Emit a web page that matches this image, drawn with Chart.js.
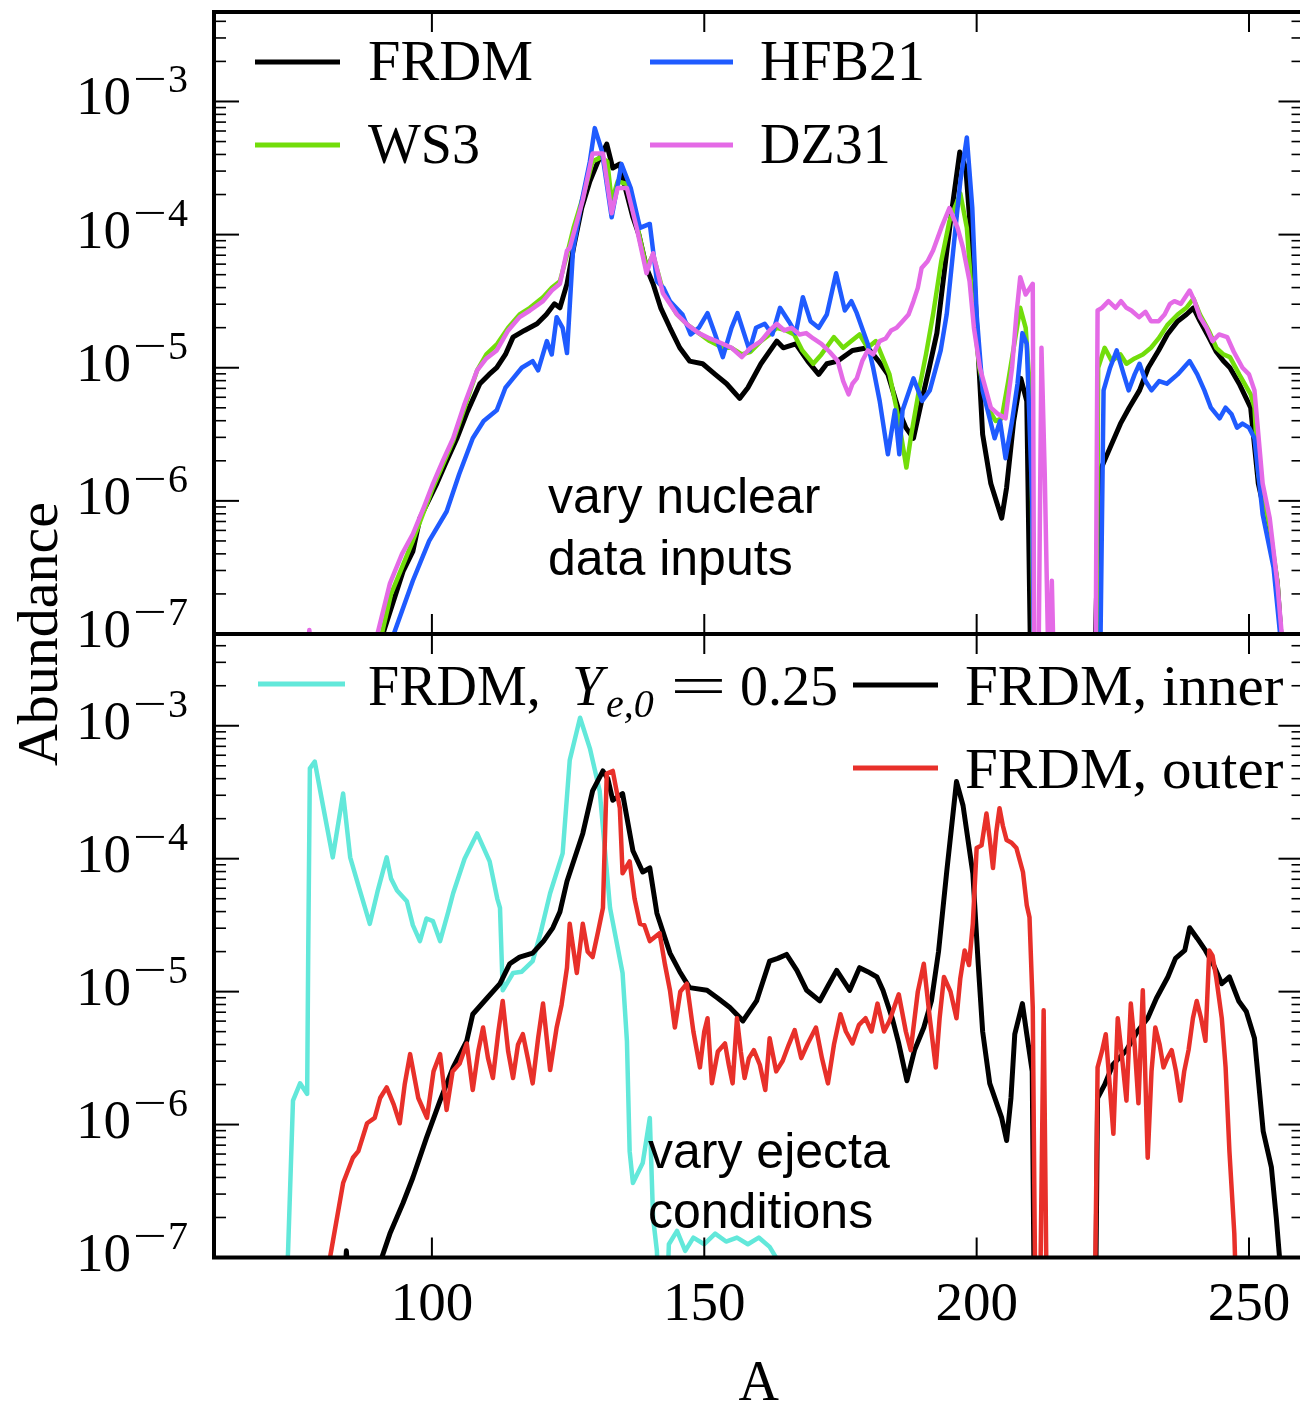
<!DOCTYPE html>
<html>
<head>
<meta charset="utf-8">
<script src="https://cdn.jsdelivr.net/npm/chart.js@4.4.1/dist/chart.umd.min.js"></script>
<style>
  html, body { margin: 0; padding: 0; background: #fff; width: 1300px; height: 1407px; overflow: hidden; }
  canvas { position: absolute; left: 0; top: 0; }
</style>
</head>
<body>
<canvas id="topPanel" width="1306" height="1407"></canvas>
<canvas id="bottomPanel" width="1306" height="1407"></canvas>
<script>
// values: [mass number A, log10(abundance)]
// top panel - vary nuclear data inputs
var frdmTop = [[90,-7.3],[91,-7.0],[94.7,-6.53],[96.5,-6.38],[97.8,-6.13],[100.9,-5.87],[102.5,-5.72],[104.6,-5.53],[106.5,-5.33],[108.8,-5.12],[110.5,-5.05],[111.9,-5.0],[113.5,-4.9],[114.9,-4.77],[117,-4.72],[119.3,-4.67],[121,-4.6],[122.5,-4.52],[123.5,-4.55],[124.8,-4.37],[126,-4.1],[127.5,-3.8],[129,-3.6],[130.5,-3.45],[132.1,-3.32],[133.2,-3.5],[134.5,-3.47],[135.5,-3.65],[136.9,-3.87],[138,-4.0],[139.4,-4.25],[140.6,-4.37],[142,-4.55],[143.7,-4.7],[145.5,-4.85],[147.3,-4.95],[149.7,-4.97],[152,-5.05],[154.1,-5.12],[156.5,-5.23],[158,-5.15],[160.4,-4.97],[163.3,-4.8],[164.5,-4.85],[166.8,-4.82],[169,-4.95],[171,-5.05],[172.5,-4.97],[174.5,-4.95],[177.2,-4.87],[180,-4.85],[182,-4.95],[183.7,-5.05],[185.7,-5.32],[187,-5.45],[188.4,-5.53],[189.9,-5.25],[191.3,-5.0],[192.7,-4.74],[194,-4.3],[195.5,-3.8],[196.9,-3.38],[198,-3.5],[199.5,-4.3],[201.1,-5.5],[202.6,-5.87],[204.6,-6.13],[205.5,-5.9],[206.8,-5.4],[208.1,-5.08],[209.2,-5.25],[210,-7.5],[221.5,-7.5],[222.6,-5.78],[224.5,-5.6],[226.4,-5.42],[228,-5.3],[229.9,-5.17],[231.5,-5.0],[233.4,-4.87],[235,-4.75],[236.9,-4.65],[238.5,-4.6],[239.8,-4.55],[241,-4.65],[242.6,-4.77],[244,-4.88],[245.3,-4.95],[246.5,-5.0],[248.2,-5.12],[250.3,-5.3],[251.7,-5.87],[253.8,-6.25],[255.2,-6.62],[256.2,-7.2]];

var hfb21Top = [[92,-7.2],[93,-7.0],[96.5,-6.6],[99.5,-6.3],[102.7,-6.08],[105,-5.8],[107.5,-5.53],[109.5,-5.4],[111.9,-5.32],[113.5,-5.15],[114.9,-5.08],[116.5,-5.0],[118.5,-4.95],[119.5,-5.02],[121.1,-4.8],[122,-4.9],[122.9,-4.62],[124,-4.7],[124.8,-4.89],[125.9,-4.12],[127.5,-3.75],[129,-3.45],[129.9,-3.2],[131.2,-3.37],[133,-3.87],[134.8,-3.47],[136.5,-3.65],[138.2,-3.95],[140,-3.92],[141.3,-4.35],[142.5,-4.4],[143.7,-4.5],[146,-4.6],[147.5,-4.75],[149,-4.7],[150.6,-4.59],[152,-4.75],[153.4,-4.92],[155,-4.7],[156.1,-4.59],[158.3,-4.87],[159.5,-4.7],[161.1,-4.67],[162.5,-4.75],[163.9,-4.55],[165.5,-4.65],[166.8,-4.74],[168.1,-4.47],[169.5,-4.65],[171,-4.7],[172.5,-4.6],[174.2,-4.29],[175.8,-4.57],[177,-4.5],[178,-4.59],[180,-4.82],[181,-5.0],[182.2,-5.25],[183.7,-5.65],[185,-5.32],[185.8,-5.65],[186.4,-5.32],[188.4,-5.08],[190,-5.25],[191.4,-5.17],[193.4,-4.87],[194.5,-4.6],[196,-4.0],[197,-3.6],[198.2,-3.27],[199.2,-3.8],[200,-4.6],[201.1,-5.17],[203.3,-5.53],[204.3,-5.4],[205.3,-5.68],[206.5,-5.4],[207.5,-5.12],[208.4,-4.74],[209.2,-4.82],[210.2,-6.0],[210.6,-7.5],[222.6,-7.5],[223.3,-5.17],[224.5,-5.0],[225.7,-4.87],[227,-5.05],[227.9,-5.17],[229,-5.05],[229.9,-4.97],[231,-5.1],[232.1,-5.17],[233.5,-5.1],[234.9,-5.12],[236.9,-5.05],[239.1,-4.95],[240.5,-5.05],[241.8,-5.17],[243,-5.3],[244.6,-5.38],[245.7,-5.3],[246.8,-5.35],[247.8,-5.45],[248.8,-5.42],[250,-5.45],[251,-5.53],[252.5,-6.1],[254.5,-6.5],[255.7,-7.0],[256.5,-7.5]];

var ws3Top = [[89.8,-7.3],[90.8,-7.0],[92.5,-6.7],[96.5,-6.3],[100.2,-5.9],[103.9,-5.55],[106,-5.3],[108.3,-5.02],[110,-4.9],[112,-4.82],[114,-4.7],[116.1,-4.6],[118,-4.55],[120.4,-4.47],[122,-4.4],[123.5,-4.35],[124.8,-4.15],[126,-3.95],[127.7,-3.72],[129.5,-3.45],[131,-3.42],[132.2,-3.45],[133,-3.75],[134.1,-3.6],[135.8,-3.62],[137.6,-3.92],[139.4,-4.25],[140.6,-4.15],[142.4,-4.42],[145,-4.6],[147,-4.68],[149,-4.74],[151,-4.8],[153.4,-4.85],[155,-4.85],[156.9,-4.9],[158.5,-4.88],[160.4,-4.8],[162,-4.75],[163.3,-4.7],[165,-4.72],[166.5,-4.75],[168,-4.87],[170,-4.97],[171.5,-4.9],[173.8,-4.77],[175.5,-4.85],[177,-4.8],[178.5,-4.75],[180,-4.85],[181.5,-4.8],[182.5,-4.9],[184,-5.05],[185.5,-5.35],[186.5,-5.6],[187.1,-5.75],[188,-5.5],[189.5,-5.15],[190.7,-4.9],[192,-4.6],[193.5,-4.2],[195,-3.9],[197,-3.69],[198.2,-3.95],[199.2,-4.5],[200.5,-5.0],[202,-5.3],[203.5,-5.4],[204.6,-5.38],[205.8,-5.1],[207,-4.8],[208,-4.55],[209,-4.7],[210,-5.3],[210.5,-7.5],[222,-7.5],[222.3,-5.0],[223.5,-4.85],[224.8,-4.95],[226.4,-4.9],[227.5,-4.97],[229,-4.93],[230.5,-4.9],[232,-4.85],[233.4,-4.78],[235,-4.68],[236.9,-4.6],[238.5,-4.55],[239.8,-4.48],[241,-4.6],[242.6,-4.72],[244,-4.85],[245.3,-4.9],[246.5,-4.92],[248.2,-5.05],[250.3,-5.2],[251,-5.3],[251.7,-5.8],[253.8,-6.2],[255.2,-6.6],[256.2,-7.2]];

var dz31Top = [[76.5,-7.5],[77.5,-6.97],[78.5,-7.5],[89.5,-7.5],[90,-7.0],[92.3,-6.62],[94.5,-6.4],[96.5,-6.25],[98.5,-6.05],[100.2,-5.87],[102,-5.7],[103.9,-5.53],[106,-5.27],[108.3,-5.02],[110,-4.93],[111.9,-4.87],[114,-4.72],[116.1,-4.62],[118,-4.57],[120.4,-4.5],[122,-4.42],[123.5,-4.37],[124.8,-4.12],[125.3,-4.1],[127.7,-3.74],[129.5,-3.39],[131.4,-3.39],[133,-3.84],[134.1,-3.65],[135.8,-3.65],[137.6,-3.95],[139.4,-4.29],[140.6,-4.14],[142.4,-4.44],[145,-4.6],[147,-4.68],[149,-4.74],[151,-4.78],[153.4,-4.82],[155,-4.85],[156.9,-4.92],[158.5,-4.85],[160.4,-4.8],[162,-4.72],[163.3,-4.67],[164.7,-4.72],[166,-4.7],[167.5,-4.75],[168.7,-4.74],[170,-4.78],[171.5,-4.82],[173,-4.88],[174.5,-4.95],[175.5,-5.1],[176.5,-5.2],[177.2,-5.12],[178,-5.08],[179,-4.95],[180,-4.87],[181,-4.9],[182.2,-4.8],[183.3,-4.78],[184.3,-4.72],[185.3,-4.7],[186.4,-4.65],[187.5,-4.6],[188.4,-4.5],[189.2,-4.4],[189.9,-4.25],[191,-4.2],[192,-4.12],[193.5,-3.95],[195,-3.8],[196.5,-3.95],[197.5,-4.1],[198.7,-4.35],[199.5,-4.7],[200.6,-5.0],[202.6,-5.3],[204,-5.35],[205.3,-5.38],[206.5,-5.0],[207.3,-4.6],[208,-4.32],[209,-4.45],[210.3,-4.37],[210.6,-7.5],[211.3,-7.5],[211.9,-4.85],[212.5,-5.8],[213.3,-7.5],[213.8,-6.6],[214.3,-7.5],[221.8,-7.5],[222.2,-4.57],[223,-4.55],[224.2,-4.5],[225.5,-4.55],[226.5,-4.5],[227.5,-4.55],[228.4,-4.57],[229.8,-4.62],[231,-4.58],[232,-4.65],[233.4,-4.65],[234.5,-4.6],[235.5,-4.52],[236.3,-4.5],[237.5,-4.52],[239.1,-4.42],[240,-4.5],[241,-4.62],[242.2,-4.7],[243.3,-4.8],[244.5,-4.75],[246,-4.77],[247.2,-4.88],[248.8,-5.0],[250,-5.05],[251,-5.17],[252.5,-5.87],[253.8,-6.13],[255.2,-6.62],[256,-7.0],[256.5,-7.5]];

// bottom panel - vary ejecta conditions
var frdmLowYe = [[73,-7.5],[73.6,-6.95],[74.5,-5.82],[75.8,-5.69],[77.1,-5.77],[77.3,-4.69],[77.6,-3.32],[78.5,-3.27],[80,-3.6],[81.8,-3.99],[83.7,-3.51],[85,-3.99],[86.5,-4.2],[88.6,-4.49],[90,-4.25],[91.7,-3.99],[92.5,-4.15],[93.6,-4.24],[95.4,-4.32],[96.5,-4.5],[97.8,-4.62],[99,-4.45],[100.2,-4.47],[101.5,-4.62],[103,-4.4],[103.9,-4.26],[106,-4.0],[108.3,-3.81],[110.6,-4.02],[112,-4.3],[112.5,-4.37],[113,-4.99],[114.9,-4.86],[116.5,-4.85],[118.5,-4.77],[120,-4.55],[121.7,-4.26],[124,-3.96],[125.3,-3.26],[127.2,-2.94],[129,-3.17],[130.8,-3.49],[132.7,-4.37],[135,-4.86],[135.8,-5.37],[136.3,-6.2],[136.9,-6.44],[138.7,-6.29],[140,-5.95],[140.6,-6.7],[141.3,-6.95],[141.8,-7.5],[143,-7.5],[143.5,-6.9],[145,-6.8],[146.5,-6.95],[148,-6.85],[150,-6.9],[152,-6.82],[154,-6.88],[156,-6.85],[158,-6.9],[160,-6.85],[162,-6.92],[163.9,-7.05],[164.5,-7.5]];

var frdmInner = [[83.5,-7.5],[84.3,-6.95],[85.2,-7.5],[90.5,-7.5],[90.8,-7.0],[92.3,-6.82],[94.7,-6.59],[96.5,-6.4],[99,-6.1],[101.5,-5.82],[103.9,-5.57],[106.4,-5.37],[107.5,-5.17],[110.1,-5.05],[112.5,-4.94],[114.3,-4.79],[116.1,-4.74],[118.5,-4.71],[120.5,-4.62],[122.2,-4.52],[123.5,-4.4],[124.8,-4.17],[127.7,-3.81],[129.5,-3.49],[131.4,-3.34],[132.3,-3.4],[133.2,-3.56],[135,-3.51],[136.9,-3.94],[138.7,-4.1],[140,-4.07],[141.3,-4.41],[143.7,-4.71],[145.5,-4.85],[147.3,-4.97],[150.5,-4.99],[152.5,-5.05],[154.7,-5.12],[157.1,-5.22],[159.6,-5.07],[162,-4.77],[163.5,-4.75],[165.1,-4.72],[167,-4.84],[168.8,-4.99],[171.2,-5.07],[172.8,-4.95],[174.3,-4.84],[176.7,-4.99],[178.5,-4.82],[180,-4.85],[181.7,-4.89],[182.8,-4.99],[184.5,-5.2],[185.7,-5.39],[187.2,-5.67],[188.6,-5.44],[190.3,-5.27],[191.7,-5.07],[193,-4.7],[194.5,-4.1],[196.3,-3.42],[197.5,-3.6],[199.3,-4.11],[200.3,-4.8],[201.1,-5.3],[202.4,-5.69],[204.6,-5.95],[205.5,-6.12],[206.3,-5.8],[207,-5.32],[208.4,-5.09],[209.2,-5.32],[210.2,-5.6],[210.6,-7.5],[221.8,-7.5],[222.2,-5.8],[223.5,-5.7],[225,-5.55],[227.5,-5.44],[229.5,-5.3],[231.4,-5.2],[233,-5.05],[235.1,-4.89],[236.5,-4.75],[238.2,-4.69],[239.1,-4.52],[240.5,-4.6],[242,-4.69],[243.5,-4.8],[245,-4.94],[246.4,-4.89],[248.1,-5.07],[249.5,-5.15],[251,-5.35],[252.6,-6.05],[254.1,-6.32],[255,-6.7],[255.6,-7.0],[256.2,-7.5]];

var frdmOuter = [[81,-7.5],[81.3,-7.0],[83.7,-6.44],[85.5,-6.25],[86.5,-6.2],[88.1,-5.99],[89.5,-5.95],[90.5,-5.8],[91.7,-5.72],[93,-5.85],[94.1,-5.99],[95,-5.7],[96,-5.47],[97.5,-5.8],[99.1,-5.95],[100.3,-5.6],[101.5,-5.47],[102.7,-5.89],[103.8,-5.6],[105.1,-5.54],[106.4,-5.39],[107.5,-5.74],[108.5,-5.45],[109.4,-5.27],[110.3,-5.5],[111.2,-5.65],[112.2,-5.3],[113,-5.07],[114,-5.45],[114.9,-5.65],[115.8,-5.4],[116.7,-5.32],[117.6,-5.5],[118.5,-5.69],[119.5,-5.35],[120.4,-5.09],[121.7,-5.59],[122.9,-5.27],[123.8,-5.1],[124.8,-4.82],[125.3,-4.49],[126.6,-4.86],[127.7,-4.49],[128.6,-4.7],[129.5,-4.74],[130.5,-4.55],[131.4,-4.37],[132.1,-3.36],[133.2,-3.34],[134.5,-3.62],[135,-4.11],[136.3,-4.02],[137.2,-4.3],[138.2,-4.49],[139,-4.5],[140,-4.62],[141.8,-4.56],[142.8,-4.8],[143.7,-4.99],[144.6,-5.27],[145.6,-5.0],[146.8,-4.94],[148,-5.3],[149.2,-5.57],[150,-5.3],[150.6,-5.2],[151.4,-5.69],[152.5,-5.45],[153.8,-5.39],[154.5,-5.55],[155.2,-5.69],[156,-5.2],[156.7,-5.45],[157.4,-5.65],[158.2,-5.5],[159.1,-5.44],[160.2,-5.55],[161.2,-5.74],[162,-5.35],[163.2,-5.6],[164.4,-5.52],[165.5,-5.4],[166.6,-5.29],[167.8,-5.5],[169,-5.39],[170.5,-5.27],[171.6,-5.5],[172.7,-5.69],[173.8,-5.4],[175,-5.17],[176,-5.3],[177.2,-5.39],[178.4,-5.25],[179.6,-5.2],[180.7,-5.3],[181.8,-5.09],[183,-5.3],[184,-5.22],[185,-5.1],[185.7,-5.02],[187,-5.3],[187.9,-5.44],[189.2,-5.0],[190.3,-4.79],[191.4,-5.2],[192.5,-5.57],[193.2,-5.2],[194,-4.89],[195.2,-5.0],[196.3,-5.2],[197,-4.9],[197.8,-4.69],[198.6,-4.8],[199.3,-4.49],[200,-3.92],[200.9,-3.9],[201.8,-3.66],[202.4,-3.85],[203,-4.07],[203.6,-3.8],[204.2,-3.62],[204.8,-3.75],[205.5,-3.86],[206.4,-3.88],[207.3,-3.92],[208.5,-4.1],[209.2,-4.35],[209.7,-4.44],[210.3,-5.12],[210.8,-7.5],[211.6,-7.5],[212.3,-5.14],[212.9,-7.5],[221.6,-7.5],[221.8,-7.0],[222.2,-5.57],[223,-5.45],[223.7,-5.32],[224.4,-5.69],[225.1,-6.07],[225.9,-5.2],[226.7,-5.5],[227.5,-5.82],[228.3,-5.09],[229,-5.4],[229.7,-5.84],[230.5,-4.99],[231.4,-6.25],[232.1,-5.6],[232.8,-5.27],[233.6,-5.4],[234.3,-5.57],[235,-5.5],[235.8,-5.44],[236.6,-5.6],[237.4,-5.82],[238.1,-5.6],[238.9,-5.44],[239.7,-5.2],[240.4,-5.07],[241.2,-5.2],[242,-5.37],[242.7,-4.69],[243.3,-4.73],[244,-4.9],[245,-5.2],[245.7,-5.57],[246.4,-6.2],[247.3,-6.82],[247.8,-7.5]];

// axis ticks
var xTickValues = [100, 150, 200, 250];
var yDecades = [-7, -6, -5, -4, -3];

var serif = '"Liberation Serif", "Times New Roman", serif';
var sans = '"Liberation Sans", Arial, sans-serif';

function toPoints(pairs) {
  return pairs.map(function (p) { return { x: p[0], y: Math.pow(10, p[1]) }; });
}

function line(ctx, x0, y0, x1, y1) {
  ctx.beginPath(); ctx.moveTo(x0, y0); ctx.lineTo(x1, y1); ctx.stroke();
}

// inward ticks, frame and y labels
var framePlugin = {
  id: 'frame',
  afterDatasetsDraw: function (chart) {
    var ctx = chart.ctx, a = chart.chartArea, x = chart.scales.x, y = chart.scales.y;
    ctx.save();
    ctx.strokeStyle = '#000';
    ctx.lineWidth = 2;
    xTickValues.forEach(function (v) {
      var px = x.getPixelForValue(v);
      line(ctx, px, a.top, px, a.top + 20);
      line(ctx, px, a.bottom, px, a.bottom - 20);
    });
    for (var e = -8; e <= -2; e++) {
      for (var m = 1; m <= 9; m++) {
        var v = m * Math.pow(10, e);
        if (v < y.min * 0.999 || v > y.max) continue;
        var py = y.getPixelForValue(v);
        var len = m === 1 ? 25 : 12;
        ctx.lineWidth = m === 1 ? 2 : 1.6;
        line(ctx, a.left, py, a.left + len, py);
        line(ctx, a.right, py, a.right - len, py);
      }
    }
    ctx.lineWidth = 4;
    ctx.strokeRect(a.left, a.top, a.right - a.left, a.bottom - a.top);

    ctx.fillStyle = '#000';
    ctx.textBaseline = 'alphabetic';
    yDecades.forEach(function (e) {
      var py = y.getPixelForValue(Math.pow(10, e));
      ctx.font = '55px ' + serif;
      ctx.textAlign = 'right';
      ctx.fillText('10', 131, py + 13);
      ctx.font = '40px ' + serif;
      ctx.textAlign = 'left';
      ctx.save();
      ctx.translate(133, py - 9);
      ctx.scale(1.5, 1);
      ctx.fillText('\u2212', 0, 0);
      ctx.restore();
      ctx.fillText(String(-e), 168, py - 9);
    });
    ctx.restore();
  }
};

function keyPlugin(items, notes) {
  return {
    id: 'key',
    afterDraw: function (chart) {
      var ctx = chart.ctx;
      ctx.save();
      items.forEach(function (it) {
        var ds = chart.data.datasets[it.index];
        ctx.strokeStyle = ds.borderColor;
        ctx.lineWidth = 5;
        line(ctx, it.x0, it.y, it.x1, it.y);
        ctx.fillStyle = '#000';
        ctx.textAlign = 'left';
        ctx.textBaseline = 'alphabetic';
        it.runs.forEach(function (r) {
          ctx.font = r.font;
          ctx.save();
          ctx.translate(r.x, r.y);
          ctx.scale(r.sx || 1, 1);
          ctx.fillText(r.text, 0, 0);
          ctx.restore();
        });
      });
      ctx.font = '50px ' + sans;
      notes.forEach(function (n) { ctx.fillText(n.text, n.x, n.y); });
      ctx.restore();
    }
  };
}

function makeOptions(yMax, padTop, padBottom) {
  return {
    responsive: false,
    animation: false,
    devicePixelRatio: 1,
    events: [],
    layout: { autoPadding: false, padding: { left: 214, right: 2.5, top: padTop, bottom: padBottom } },
    plugins: { legend: { display: false }, tooltip: { enabled: false } },
    elements: { point: { radius: 0 }, line: { tension: 0, borderJoinStyle: 'round' } },
    scales: {
      x: { type: 'linear', min: 60, max: 260, display: false },
      y: { type: 'logarithmic', min: 1e-7, max: yMax, display: false }
    }
  };
}

function series(label, pairs, color, width) {
  return { label: label, data: toPoints(pairs), borderColor: color, borderWidth: width, clip: 0, fill: false };
}

var big = '56px ' + serif;

// top panel; first dataset is drawn on top
new Chart(document.getElementById('topPanel'), {
  type: 'line',
  data: {
    datasets: [
      series('DZ31', dz31Top, '#e46ae6', 4.5),
      series('HFB21', hfb21Top, '#1f5bff', 4.5),
      series('WS3', ws3Top, '#72dd0a', 4.5),
      series('FRDM', frdmTop, '#000000', 5)
    ]
  },
  options: makeOptions(4.7e-3, 12, 1407 - 634),
  plugins: [framePlugin, keyPlugin([
    { index: 3, x0: 255, x1: 340, y: 62, runs: [{ text: 'FRDM', x: 368, y: 80, font: big, sx: 1.04 }] },
    { index: 2, x0: 255, x1: 340, y: 145, runs: [{ text: 'WS3', x: 368, y: 163, font: big }] },
    { index: 1, x0: 650, x1: 733, y: 62, runs: [{ text: 'HFB21', x: 760, y: 80, font: big }] },
    { index: 0, x0: 650, x1: 733, y: 145, runs: [{ text: 'DZ31', x: 760, y: 163, font: big }] }
  ], [
    { text: 'vary nuclear', x: 548, y: 513 },
    { text: 'data inputs', x: 548, y: 575 }
  ])]
});

// bottom panel plus shared axis texts
var axisText = {
  id: 'axisText',
  afterDraw: function (chart) {
    var ctx = chart.ctx, a = chart.chartArea, x = chart.scales.x;
    ctx.save();
    ctx.fillStyle = '#000';
    ctx.textAlign = 'center';
    ctx.textBaseline = 'alphabetic';
    ctx.font = '55px ' + serif;
    xTickValues.forEach(function (v) {
      ctx.fillText(String(v), x.getPixelForValue(v), a.bottom + 62);
    });
    ctx.font = '56px ' + serif;
    ctx.fillText('A', (a.left + a.right) / 2, a.bottom + 142);
    ctx.translate(57, 634);
    ctx.rotate(-Math.PI / 2);
    ctx.font = '58px ' + serif;
    ctx.fillText('Abundance', 0, 0);
    ctx.restore();
  }
};

new Chart(document.getElementById('bottomPanel'), {
  type: 'line',
  data: {
    datasets: [
      series('FRDM, outer', frdmOuter, '#e8302a', 4.5),
      series('FRDM, inner', frdmInner, '#000000', 5),
      series('FRDM, Ye0 = 0.25', frdmLowYe, '#62e8da', 4.5)
    ]
  },
  options: makeOptions(4.9e-3, 634, 1407 - 1257.5),
  plugins: [framePlugin, axisText, keyPlugin([
    { index: 2, x0: 258, x1: 345, y: 684, runs: [
      { text: 'FRDM,', x: 368, y: 705, font: big },
      { text: 'Y', x: 572, y: 705, font: 'italic ' + big },
      { text: 'e,0', x: 606, y: 717, font: 'italic 40px ' + serif },
      { text: '=', x: 670, y: 705, font: big, sx: 1.8 },
      { text: '0.25', x: 740, y: 705, font: big }
    ] },
    { index: 1, x0: 853, x1: 938, y: 685, runs: [{ text: 'FRDM, inner', x: 965, y: 705, font: big, sx: 1.055 }] },
    { index: 0, x0: 853, x1: 938, y: 768, runs: [{ text: 'FRDM, outer', x: 965, y: 788, font: big, sx: 1.055 }] }
  ], [
    { text: 'vary ejecta', x: 648, y: 1168 },
    { text: 'conditions', x: 648, y: 1228 }
  ])]
});
</script>
</body>
</html>
